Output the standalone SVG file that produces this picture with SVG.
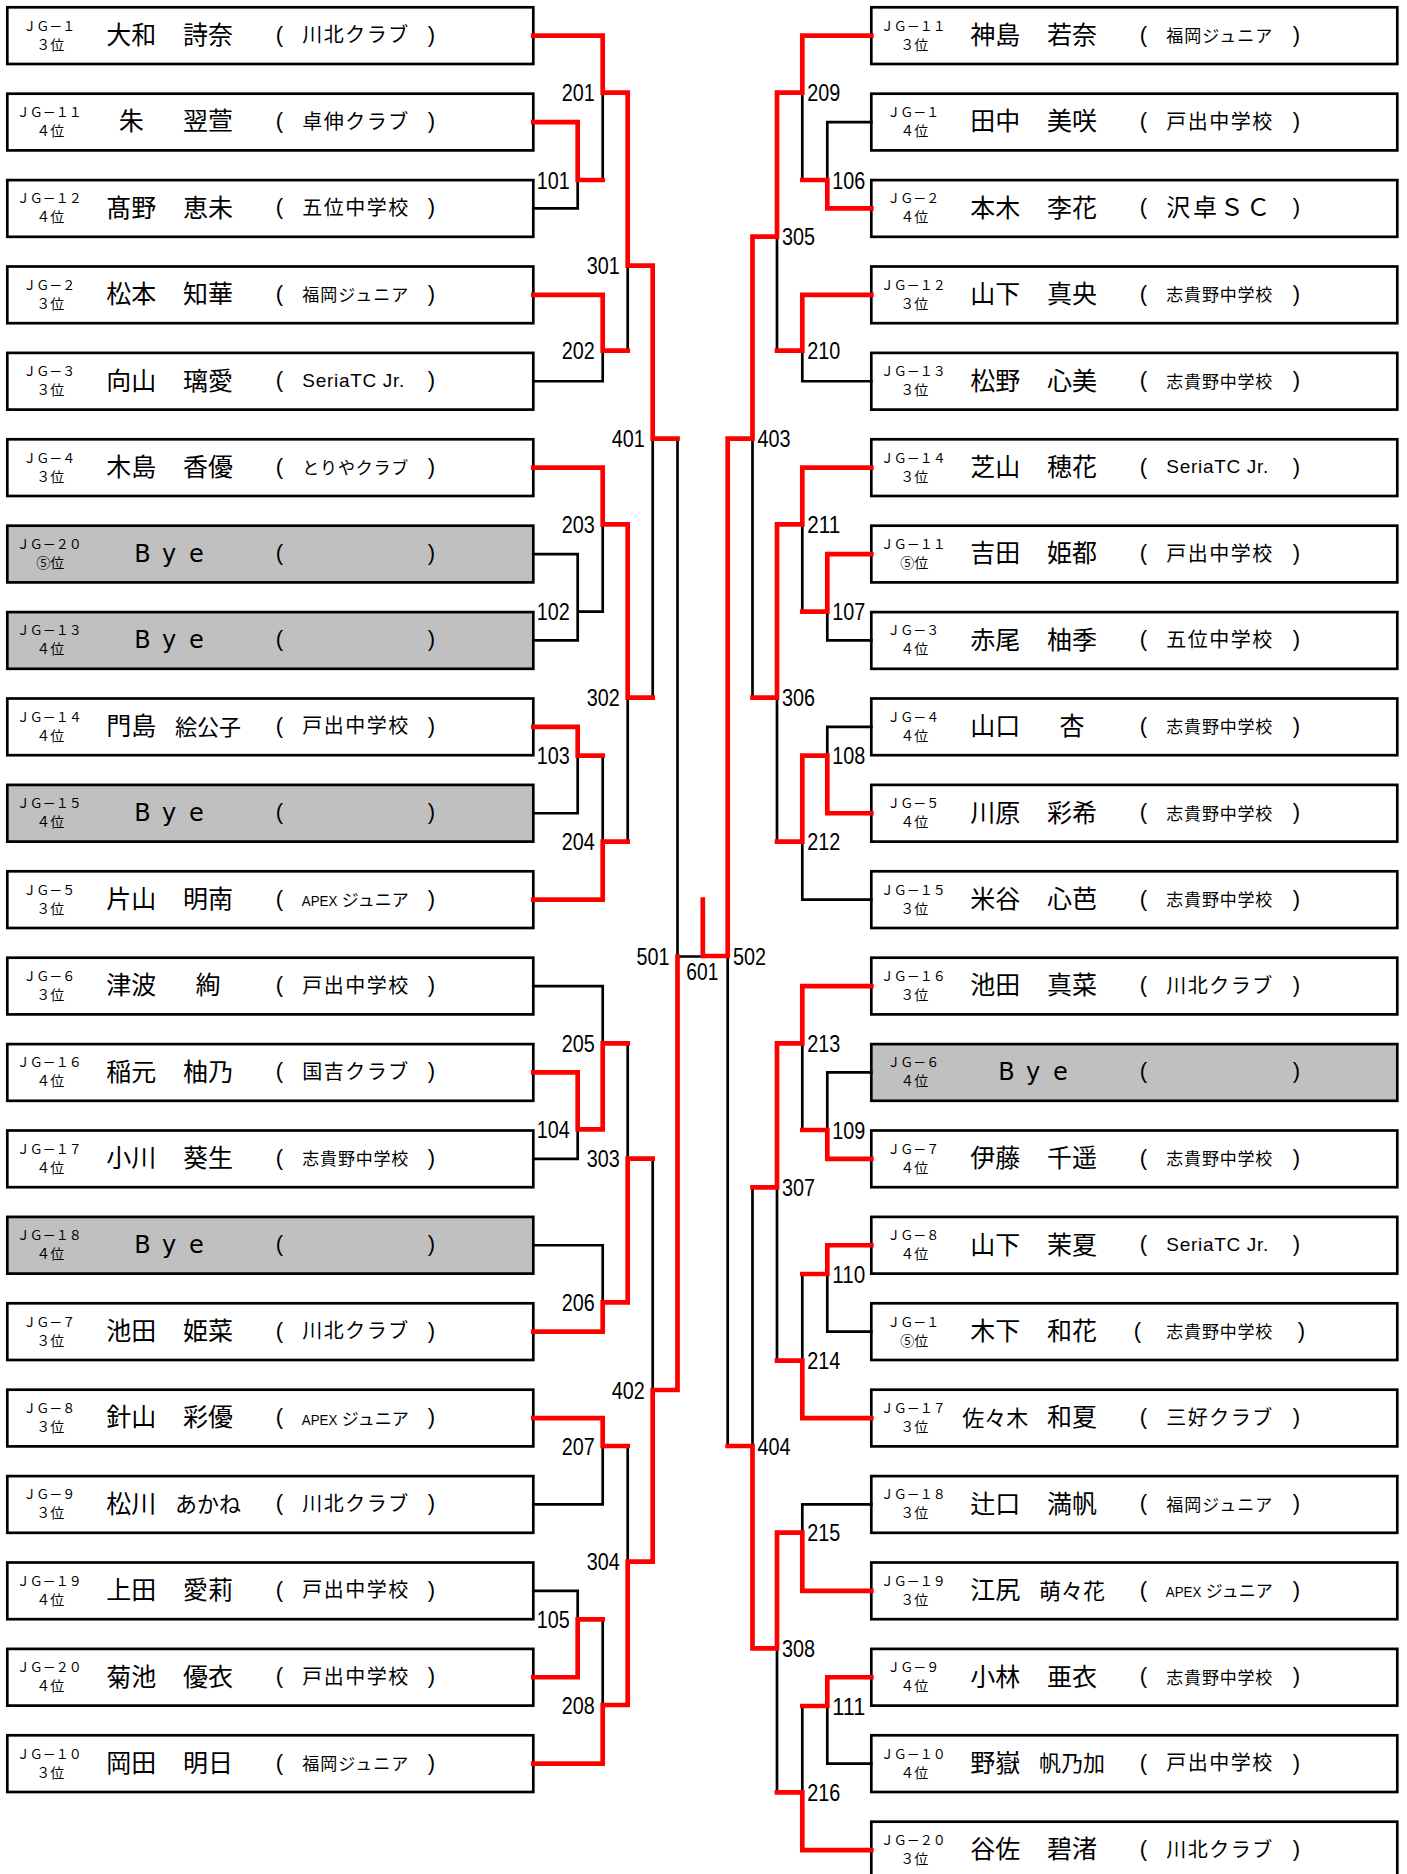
<svg xmlns="http://www.w3.org/2000/svg" width="1407" height="1874" viewBox="0 0 1407 1874">
<style>
.box{fill:#fff;stroke:#000;stroke-width:2.7}
.bye{fill:#c0c0c0}
.t{font-family:"Noto Sans CJK JP","Noto Sans CJK SC",sans-serif;fill:#000}
.jg{font-size:13px;text-anchor:middle}
.rk{font-size:14px;text-anchor:middle}
.nm{font-size:25px;text-anchor:middle}
.n3{font-size:22px}
.c5{font-size:20px}
.c6{font-size:17px}
.c4{font-size:24px}
.pr{font-family:"Liberation Sans",sans-serif;font-size:22px;text-anchor:middle}
.sr{font-family:"Liberation Sans",sans-serif;font-size:19px}
.ap{font-family:"Liberation Sans",sans-serif;font-size:15px}
.by{font-family:"DejaVu Sans",sans-serif;font-size:24px;text-anchor:middle}
.lb{font-family:"Liberation Sans",sans-serif;font-size:24px}
.le{text-anchor:end}
.lm{text-anchor:middle}
.bk{fill:none;stroke:#000;stroke-width:2.7;stroke-linecap:square}
.rd{fill:none;stroke:#f00;stroke-width:4.7;stroke-linecap:square}
</style>

<g id="left-nodes">
<g id="L00" transform="translate(7.3,7.3)"><rect class="box" width="526" height="56.7"/><text class="t jg" x="42" y="23.4">ＪＧ－１</text><text class="t rk" x="43" y="42.4">３位</text><text class="t nm" x="124" y="36.7">大和</text><text class="t nm" x="200.7" y="36.7">詩奈</text><text class="pr" x="272" y="34.4">(</text><text class="t c5" x="295" y="34.9" textLength="106" lengthAdjust="spacing">川北クラブ</text><text class="pr" x="424" y="34.4">)</text></g>
<g id="L01" transform="translate(7.3,93.7)"><rect class="box" width="526" height="56.7"/><text class="t jg" x="42" y="23.4">ＪＧ－１１</text><text class="t rk" x="43" y="42.4">４位</text><text class="t nm" x="124" y="36.7">朱</text><text class="t nm" x="200.7" y="36.7">翌萱</text><text class="pr" x="272" y="34.4">(</text><text class="t c5" x="295" y="34.9" textLength="106" lengthAdjust="spacing">卓伸クラブ</text><text class="pr" x="424" y="34.4">)</text></g>
<g id="L02" transform="translate(7.3,180.1)"><rect class="box" width="526" height="56.7"/><text class="t jg" x="42" y="23.4">ＪＧ－１２</text><text class="t rk" x="43" y="42.4">４位</text><text class="t nm" x="124" y="36.7">髙野</text><text class="t nm" x="200.7" y="36.7">恵未</text><text class="pr" x="272" y="34.4">(</text><text class="t c5" x="295" y="34.9" textLength="106" lengthAdjust="spacing">五位中学校</text><text class="pr" x="424" y="34.4">)</text></g>
<g id="L03" transform="translate(7.3,266.5)"><rect class="box" width="526" height="56.7"/><text class="t jg" x="42" y="23.4">ＪＧ－２</text><text class="t rk" x="43" y="42.4">３位</text><text class="t nm" x="124" y="36.7">松本</text><text class="t nm" x="200.7" y="36.7">知華</text><text class="pr" x="272" y="34.4">(</text><text class="t c6" x="295" y="34.9" textLength="106" lengthAdjust="spacing">福岡ジュニア</text><text class="pr" x="424" y="34.4">)</text></g>
<g id="L04" transform="translate(7.3,352.9)"><rect class="box" width="526" height="56.7"/><text class="t jg" x="42" y="23.4">ＪＧ－３</text><text class="t rk" x="43" y="42.4">３位</text><text class="t nm" x="124" y="36.7">向山</text><text class="t nm" x="200.7" y="36.7">璃愛</text><text class="pr" x="272" y="34.4">(</text><text class="sr" x="295" y="34.2" textLength="102" lengthAdjust="spacing">SeriaTC Jr.</text><text class="pr" x="424" y="34.4">)</text></g>
<g id="L05" transform="translate(7.3,439.3)"><rect class="box" width="526" height="56.7"/><text class="t jg" x="42" y="23.4">ＪＧ－４</text><text class="t rk" x="43" y="42.4">３位</text><text class="t nm" x="124" y="36.7">木島</text><text class="t nm" x="200.7" y="36.7">香優</text><text class="pr" x="272" y="34.4">(</text><text class="t c6" x="295" y="34.9" textLength="106" lengthAdjust="spacing">とりやクラブ</text><text class="pr" x="424" y="34.4">)</text></g>
<g id="L06" transform="translate(7.3,525.7)"><rect class="box bye" width="526" height="56.7"/><text class="t jg" x="42" y="23.4">ＪＧ－２０</text><text class="t rk" x="43" y="42.4">⑤位</text><text class="by" x="135.2 161.9 189" y="36.4">Bye</text><text class="pr" x="272" y="34.4">(</text><text class="pr" x="424" y="34.4">)</text></g>
<g id="L07" transform="translate(7.3,612.1)"><rect class="box bye" width="526" height="56.7"/><text class="t jg" x="42" y="23.4">ＪＧ－１３</text><text class="t rk" x="43" y="42.4">４位</text><text class="by" x="135.2 161.9 189" y="36.4">Bye</text><text class="pr" x="272" y="34.4">(</text><text class="pr" x="424" y="34.4">)</text></g>
<g id="L08" transform="translate(7.3,698.5)"><rect class="box" width="526" height="56.7"/><text class="t jg" x="42" y="23.4">ＪＧ－１４</text><text class="t rk" x="43" y="42.4">４位</text><text class="t nm" x="124" y="36.7">門島</text><text class="t nm n3" x="200.7" y="36.2">絵公子</text><text class="pr" x="272" y="34.4">(</text><text class="t c5" x="295" y="34.9" textLength="106" lengthAdjust="spacing">戸出中学校</text><text class="pr" x="424" y="34.4">)</text></g>
<g id="L09" transform="translate(7.3,784.9)"><rect class="box bye" width="526" height="56.7"/><text class="t jg" x="42" y="23.4">ＪＧ－１５</text><text class="t rk" x="43" y="42.4">４位</text><text class="by" x="135.2 161.9 189" y="36.4">Bye</text><text class="pr" x="272" y="34.4">(</text><text class="pr" x="424" y="34.4">)</text></g>
<g id="L10" transform="translate(7.3,871.3)"><rect class="box" width="526" height="56.7"/><text class="t jg" x="42" y="23.4">ＪＧ－５</text><text class="t rk" x="43" y="42.4">３位</text><text class="t nm" x="124" y="36.7">片山</text><text class="t nm" x="200.7" y="36.7">明南</text><text class="pr" x="272" y="34.4">(</text><text class="ap" x="294.5" y="34.9" textLength="35.5" lengthAdjust="spacingAndGlyphs">APEX</text><text class="t c6" x="334.5" y="34.9" textLength="67" lengthAdjust="spacing">ジュニア</text><text class="pr" x="424" y="34.4">)</text></g>
<g id="L11" transform="translate(7.3,957.7)"><rect class="box" width="526" height="56.7"/><text class="t jg" x="42" y="23.4">ＪＧ－６</text><text class="t rk" x="43" y="42.4">３位</text><text class="t nm" x="124" y="36.7">津波</text><text class="t nm" x="200.7" y="36.7">絢</text><text class="pr" x="272" y="34.4">(</text><text class="t c5" x="295" y="34.9" textLength="106" lengthAdjust="spacing">戸出中学校</text><text class="pr" x="424" y="34.4">)</text></g>
<g id="L12" transform="translate(7.3,1044.1)"><rect class="box" width="526" height="56.7"/><text class="t jg" x="42" y="23.4">ＪＧ－１６</text><text class="t rk" x="43" y="42.4">４位</text><text class="t nm" x="124" y="36.7">稲元</text><text class="t nm" x="200.7" y="36.7">柚乃</text><text class="pr" x="272" y="34.4">(</text><text class="t c5" x="295" y="34.9" textLength="106" lengthAdjust="spacing">国吉クラブ</text><text class="pr" x="424" y="34.4">)</text></g>
<g id="L13" transform="translate(7.3,1130.5)"><rect class="box" width="526" height="56.7"/><text class="t jg" x="42" y="23.4">ＪＧ－１７</text><text class="t rk" x="43" y="42.4">４位</text><text class="t nm" x="124" y="36.7">小川</text><text class="t nm" x="200.7" y="36.7">葵生</text><text class="pr" x="272" y="34.4">(</text><text class="t c6" x="295" y="34.9" textLength="106" lengthAdjust="spacing">志貴野中学校</text><text class="pr" x="424" y="34.4">)</text></g>
<g id="L14" transform="translate(7.3,1216.9)"><rect class="box bye" width="526" height="56.7"/><text class="t jg" x="42" y="23.4">ＪＧ－１８</text><text class="t rk" x="43" y="42.4">４位</text><text class="by" x="135.2 161.9 189" y="36.4">Bye</text><text class="pr" x="272" y="34.4">(</text><text class="pr" x="424" y="34.4">)</text></g>
<g id="L15" transform="translate(7.3,1303.3)"><rect class="box" width="526" height="56.7"/><text class="t jg" x="42" y="23.4">ＪＧ－７</text><text class="t rk" x="43" y="42.4">３位</text><text class="t nm" x="124" y="36.7">池田</text><text class="t nm" x="200.7" y="36.7">姫菜</text><text class="pr" x="272" y="34.4">(</text><text class="t c5" x="295" y="34.9" textLength="106" lengthAdjust="spacing">川北クラブ</text><text class="pr" x="424" y="34.4">)</text></g>
<g id="L16" transform="translate(7.3,1389.7)"><rect class="box" width="526" height="56.7"/><text class="t jg" x="42" y="23.4">ＪＧ－８</text><text class="t rk" x="43" y="42.4">３位</text><text class="t nm" x="124" y="36.7">針山</text><text class="t nm" x="200.7" y="36.7">彩優</text><text class="pr" x="272" y="34.4">(</text><text class="ap" x="294.5" y="34.9" textLength="35.5" lengthAdjust="spacingAndGlyphs">APEX</text><text class="t c6" x="334.5" y="34.9" textLength="67" lengthAdjust="spacing">ジュニア</text><text class="pr" x="424" y="34.4">)</text></g>
<g id="L17" transform="translate(7.3,1476.1)"><rect class="box" width="526" height="56.7"/><text class="t jg" x="42" y="23.4">ＪＧ－９</text><text class="t rk" x="43" y="42.4">３位</text><text class="t nm" x="124" y="36.7">松川</text><text class="t nm n3" x="200.7" y="36.2">あかね</text><text class="pr" x="272" y="34.4">(</text><text class="t c5" x="295" y="34.9" textLength="106" lengthAdjust="spacing">川北クラブ</text><text class="pr" x="424" y="34.4">)</text></g>
<g id="L18" transform="translate(7.3,1562.5)"><rect class="box" width="526" height="56.7"/><text class="t jg" x="42" y="23.4">ＪＧ－１９</text><text class="t rk" x="43" y="42.4">４位</text><text class="t nm" x="124" y="36.7">上田</text><text class="t nm" x="200.7" y="36.7">愛莉</text><text class="pr" x="272" y="34.4">(</text><text class="t c5" x="295" y="34.9" textLength="106" lengthAdjust="spacing">戸出中学校</text><text class="pr" x="424" y="34.4">)</text></g>
<g id="L19" transform="translate(7.3,1648.9)"><rect class="box" width="526" height="56.7"/><text class="t jg" x="42" y="23.4">ＪＧ－２０</text><text class="t rk" x="43" y="42.4">４位</text><text class="t nm" x="124" y="36.7">菊池</text><text class="t nm" x="200.7" y="36.7">優衣</text><text class="pr" x="272" y="34.4">(</text><text class="t c5" x="295" y="34.9" textLength="106" lengthAdjust="spacing">戸出中学校</text><text class="pr" x="424" y="34.4">)</text></g>
<g id="L20" transform="translate(7.3,1735.3)"><rect class="box" width="526" height="56.7"/><text class="t jg" x="42" y="23.4">ＪＧ－１０</text><text class="t rk" x="43" y="42.4">３位</text><text class="t nm" x="124" y="36.7">岡田</text><text class="t nm" x="200.7" y="36.7">明日</text><text class="pr" x="272" y="34.4">(</text><text class="t c6" x="295" y="34.9" textLength="106" lengthAdjust="spacing">福岡ジュニア</text><text class="pr" x="424" y="34.4">)</text></g>
</g>

<g id="right-nodes">
<g id="R00" transform="translate(871.3,7.3)"><rect class="box" width="526" height="56.7"/><text class="t jg" x="42" y="23.4">ＪＧ－１１</text><text class="t rk" x="43" y="42.4">３位</text><text class="t nm" x="124" y="36.7">神島</text><text class="t nm" x="200.7" y="36.7">若奈</text><text class="pr" x="272" y="34.4">(</text><text class="t c6" x="295" y="34.9" textLength="106" lengthAdjust="spacing">福岡ジュニア</text><text class="pr" x="425" y="34.4">)</text></g>
<g id="R01" transform="translate(871.3,93.7)"><rect class="box" width="526" height="56.7"/><text class="t jg" x="42" y="23.4">ＪＧ－１</text><text class="t rk" x="43" y="42.4">４位</text><text class="t nm" x="124" y="36.7">田中</text><text class="t nm" x="200.7" y="36.7">美咲</text><text class="pr" x="272" y="34.4">(</text><text class="t c5" x="295" y="34.9" textLength="106" lengthAdjust="spacing">戸出中学校</text><text class="pr" x="425" y="34.4">)</text></g>
<g id="R02" transform="translate(871.3,180.1)"><rect class="box" width="526" height="56.7"/><text class="t jg" x="42" y="23.4">ＪＧ－２</text><text class="t rk" x="43" y="42.4">４位</text><text class="t nm" x="124" y="36.7">本木</text><text class="t nm" x="200.7" y="36.7">李花</text><text class="pr" x="272" y="34.4">(</text><text class="t c4" x="295" y="36.4" textLength="104" lengthAdjust="spacing">沢卓ＳＣ</text><text class="pr" x="425" y="34.4">)</text></g>
<g id="R03" transform="translate(871.3,266.5)"><rect class="box" width="526" height="56.7"/><text class="t jg" x="42" y="23.4">ＪＧ－１２</text><text class="t rk" x="43" y="42.4">３位</text><text class="t nm" x="124" y="36.7">山下</text><text class="t nm" x="200.7" y="36.7">真央</text><text class="pr" x="272" y="34.4">(</text><text class="t c6" x="295" y="34.9" textLength="106" lengthAdjust="spacing">志貴野中学校</text><text class="pr" x="425" y="34.4">)</text></g>
<g id="R04" transform="translate(871.3,352.9)"><rect class="box" width="526" height="56.7"/><text class="t jg" x="42" y="23.4">ＪＧ－１３</text><text class="t rk" x="43" y="42.4">３位</text><text class="t nm" x="124" y="36.7">松野</text><text class="t nm" x="200.7" y="36.7">心美</text><text class="pr" x="272" y="34.4">(</text><text class="t c6" x="295" y="34.9" textLength="106" lengthAdjust="spacing">志貴野中学校</text><text class="pr" x="425" y="34.4">)</text></g>
<g id="R05" transform="translate(871.3,439.3)"><rect class="box" width="526" height="56.7"/><text class="t jg" x="42" y="23.4">ＪＧ－１４</text><text class="t rk" x="43" y="42.4">３位</text><text class="t nm" x="124" y="36.7">芝山</text><text class="t nm" x="200.7" y="36.7">穂花</text><text class="pr" x="272" y="34.4">(</text><text class="sr" x="295" y="34.2" textLength="102" lengthAdjust="spacing">SeriaTC Jr.</text><text class="pr" x="425" y="34.4">)</text></g>
<g id="R06" transform="translate(871.3,525.7)"><rect class="box" width="526" height="56.7"/><text class="t jg" x="42" y="23.4">ＪＧ－１１</text><text class="t rk" x="43" y="42.4">⑤位</text><text class="t nm" x="124" y="36.7">吉田</text><text class="t nm" x="200.7" y="36.7">姫都</text><text class="pr" x="272" y="34.4">(</text><text class="t c5" x="295" y="34.9" textLength="106" lengthAdjust="spacing">戸出中学校</text><text class="pr" x="425" y="34.4">)</text></g>
<g id="R07" transform="translate(871.3,612.1)"><rect class="box" width="526" height="56.7"/><text class="t jg" x="42" y="23.4">ＪＧ－３</text><text class="t rk" x="43" y="42.4">４位</text><text class="t nm" x="124" y="36.7">赤尾</text><text class="t nm" x="200.7" y="36.7">柚季</text><text class="pr" x="272" y="34.4">(</text><text class="t c5" x="295" y="34.9" textLength="106" lengthAdjust="spacing">五位中学校</text><text class="pr" x="425" y="34.4">)</text></g>
<g id="R08" transform="translate(871.3,698.5)"><rect class="box" width="526" height="56.7"/><text class="t jg" x="42" y="23.4">ＪＧ－４</text><text class="t rk" x="43" y="42.4">４位</text><text class="t nm" x="124" y="36.7">山口</text><text class="t nm" x="200.7" y="36.7">杏</text><text class="pr" x="272" y="34.4">(</text><text class="t c6" x="295" y="34.9" textLength="106" lengthAdjust="spacing">志貴野中学校</text><text class="pr" x="425" y="34.4">)</text></g>
<g id="R09" transform="translate(871.3,784.9)"><rect class="box" width="526" height="56.7"/><text class="t jg" x="42" y="23.4">ＪＧ－５</text><text class="t rk" x="43" y="42.4">４位</text><text class="t nm" x="124" y="36.7">川原</text><text class="t nm" x="200.7" y="36.7">彩希</text><text class="pr" x="272" y="34.4">(</text><text class="t c6" x="295" y="34.9" textLength="106" lengthAdjust="spacing">志貴野中学校</text><text class="pr" x="425" y="34.4">)</text></g>
<g id="R10" transform="translate(871.3,871.3)"><rect class="box" width="526" height="56.7"/><text class="t jg" x="42" y="23.4">ＪＧ－１５</text><text class="t rk" x="43" y="42.4">３位</text><text class="t nm" x="124" y="36.7">米谷</text><text class="t nm" x="200.7" y="36.7">心芭</text><text class="pr" x="272" y="34.4">(</text><text class="t c6" x="295" y="34.9" textLength="106" lengthAdjust="spacing">志貴野中学校</text><text class="pr" x="425" y="34.4">)</text></g>
<g id="R11" transform="translate(871.3,957.7)"><rect class="box" width="526" height="56.7"/><text class="t jg" x="42" y="23.4">ＪＧ－１６</text><text class="t rk" x="43" y="42.4">３位</text><text class="t nm" x="124" y="36.7">池田</text><text class="t nm" x="200.7" y="36.7">真菜</text><text class="pr" x="272" y="34.4">(</text><text class="t c5" x="295" y="34.9" textLength="106" lengthAdjust="spacing">川北クラブ</text><text class="pr" x="425" y="34.4">)</text></g>
<g id="R12" transform="translate(871.3,1044.1)"><rect class="box bye" width="526" height="56.7"/><text class="t jg" x="42" y="23.4">ＪＧ－６</text><text class="t rk" x="43" y="42.4">４位</text><text class="by" x="135.2 161.9 189" y="36.4">Bye</text><text class="pr" x="272" y="34.4">(</text><text class="pr" x="425" y="34.4">)</text></g>
<g id="R13" transform="translate(871.3,1130.5)"><rect class="box" width="526" height="56.7"/><text class="t jg" x="42" y="23.4">ＪＧ－７</text><text class="t rk" x="43" y="42.4">４位</text><text class="t nm" x="124" y="36.7">伊藤</text><text class="t nm" x="200.7" y="36.7">千遥</text><text class="pr" x="272" y="34.4">(</text><text class="t c6" x="295" y="34.9" textLength="106" lengthAdjust="spacing">志貴野中学校</text><text class="pr" x="425" y="34.4">)</text></g>
<g id="R14" transform="translate(871.3,1216.9)"><rect class="box" width="526" height="56.7"/><text class="t jg" x="42" y="23.4">ＪＧ－８</text><text class="t rk" x="43" y="42.4">４位</text><text class="t nm" x="124" y="36.7">山下</text><text class="t nm" x="200.7" y="36.7">茉夏</text><text class="pr" x="272" y="34.4">(</text><text class="sr" x="295" y="34.2" textLength="102" lengthAdjust="spacing">SeriaTC Jr.</text><text class="pr" x="425" y="34.4">)</text></g>
<g id="R15" transform="translate(871.3,1303.3)"><rect class="box" width="526" height="56.7"/><text class="t jg" x="42" y="23.4">ＪＧ－１</text><text class="t rk" x="43" y="42.4">⑤位</text><text class="t nm" x="124" y="36.7">木下</text><text class="t nm" x="200.7" y="36.7">和花</text><text class="pr" x="266" y="34.4">(</text><text class="t c6" x="295" y="34.9" textLength="106" lengthAdjust="spacing">志貴野中学校</text><text class="pr" x="430" y="34.4">)</text></g>
<g id="R16" transform="translate(871.3,1389.7)"><rect class="box" width="526" height="56.7"/><text class="t jg" x="42" y="23.4">ＪＧ－１７</text><text class="t rk" x="43" y="42.4">３位</text><text class="t nm n3" x="124" y="36.2">佐々木</text><text class="t nm" x="200.7" y="36.7">和夏</text><text class="pr" x="272" y="34.4">(</text><text class="t c5" x="295" y="34.9" textLength="106" lengthAdjust="spacing">三好クラブ</text><text class="pr" x="425" y="34.4">)</text></g>
<g id="R17" transform="translate(871.3,1476.1)"><rect class="box" width="526" height="56.7"/><text class="t jg" x="42" y="23.4">ＪＧ－１８</text><text class="t rk" x="43" y="42.4">３位</text><text class="t nm" x="124" y="36.7">辻口</text><text class="t nm" x="200.7" y="36.7">満帆</text><text class="pr" x="272" y="34.4">(</text><text class="t c6" x="295" y="34.9" textLength="106" lengthAdjust="spacing">福岡ジュニア</text><text class="pr" x="425" y="34.4">)</text></g>
<g id="R18" transform="translate(871.3,1562.5)"><rect class="box" width="526" height="56.7"/><text class="t jg" x="42" y="23.4">ＪＧ－１９</text><text class="t rk" x="43" y="42.4">３位</text><text class="t nm" x="124" y="36.7">江尻</text><text class="t nm n3" x="200.7" y="36.2">萌々花</text><text class="pr" x="272" y="34.4">(</text><text class="ap" x="294.5" y="34.9" textLength="35.5" lengthAdjust="spacingAndGlyphs">APEX</text><text class="t c6" x="334.5" y="34.9" textLength="67" lengthAdjust="spacing">ジュニア</text><text class="pr" x="425" y="34.4">)</text></g>
<g id="R19" transform="translate(871.3,1648.9)"><rect class="box" width="526" height="56.7"/><text class="t jg" x="42" y="23.4">ＪＧ－９</text><text class="t rk" x="43" y="42.4">４位</text><text class="t nm" x="124" y="36.7">小林</text><text class="t nm" x="200.7" y="36.7">亜衣</text><text class="pr" x="272" y="34.4">(</text><text class="t c6" x="295" y="34.9" textLength="106" lengthAdjust="spacing">志貴野中学校</text><text class="pr" x="425" y="34.4">)</text></g>
<g id="R20" transform="translate(871.3,1735.3)"><rect class="box" width="526" height="56.7"/><text class="t jg" x="42" y="23.4">ＪＧ－１０</text><text class="t rk" x="43" y="42.4">４位</text><text class="t nm" x="124" y="36.7">野嶽</text><text class="t nm n3" x="200.7" y="36.2">帆乃加</text><text class="pr" x="272" y="34.4">(</text><text class="t c5" x="295" y="34.9" textLength="106" lengthAdjust="spacing">戸出中学校</text><text class="pr" x="425" y="34.4">)</text></g>
<g id="R21" transform="translate(871.3,1821.7)"><rect class="box" width="526" height="56.7"/><text class="t jg" x="42" y="23.4">ＪＧ－２０</text><text class="t rk" x="43" y="42.4">３位</text><text class="t nm" x="124" y="36.7">谷佐</text><text class="t nm" x="200.7" y="36.7">碧渚</text><text class="pr" x="272" y="34.4">(</text><text class="t c5" x="295" y="34.9" textLength="106" lengthAdjust="spacing">川北クラブ</text><text class="pr" x="425" y="34.4">)</text></g>
</g>

<g id="connectors">
<path class="bk" d="M533.3 208.45H577.7V180M602.7 92.7V180M533.3 381.25H602.7V350.7M627.7 265.7V350.7M533.3 554.05H577.7V640.45H533.3M577.7 611.7H602.7M602.7 524.3V611.7M533.3 813.25H577.7V755.7M602.7 755.7V841.7M627.7 697.7V841.7M652.7 438.7V697.7M677.5 438.7V956.5M533.3 986.05H602.7V1043.3M533.3 1158.85H577.7V1129.3M627.7 1043.3V1158.7M533.3 1245.25H602.7V1302.3M652.7 1158.7V1390M533.3 1504.45H602.7V1446M627.7 1446V1561.7M533.3 1590.85H577.7V1619.3M602.7 1619.3V1705M677.5 956.5H702.5"/>
<path class="bk" d="M871.3 122.05H827.3V180M802.3 92.7V180M777 236.7V350.7M871.3 381.25H802.3V350.7M752.5 438.7V697.7M802.3 524.3V611.7M871.3 640.45H827.3V611.7M777 697.7V841.7M871.3 726.85H827.3V755.7M871.3 899.65H802.3V841.7M727.7 956.5V1446M802.3 1043.3V1130M871.3 1072.45H827.3V1130M777 1187.3V1360.7M752.5 1187.3V1446M802.3 1274V1360.7M871.3 1331.65H827.3V1274M871.3 1504.45H802.3V1532.7M777 1648.3V1792.3M802.3 1706V1792.3M871.3 1763.65H827.3V1706"/>
<path class="rd" d="M533.3 35.65H602.7V92.7H627.7V265.7H652.7V438.7H677.5M533.3 122.05H577.7V180H602.7M533.3 294.85H602.7V350.7H627.7M533.3 467.65H602.7V524.3H627.7V697.7H652.7M533.3 726.85H577.7V755.7H602.7M533.3 899.65H602.7V841.7H627.7M533.3 1072.45H577.7V1129.3H602.7V1043.3H627.7M533.3 1331.65H602.7V1302.3H627.7V1158.7H652.7M533.3 1418.05H602.7V1446H627.7M533.3 1677.25H577.7V1619.3H602.7M533.3 1763.65H602.7V1705H627.7V1561.7H652.7V1390H677.5V956.5"/>
<path class="rd" d="M871.3 35.65H802.3V92.7H777V236.7H752.5V438.7H727.7V956H702.8V899.5M871.3 208.45H827.3V180H802.3M871.3 294.85H802.3V350.7H777M871.3 467.65H802.3V524.3H777V697.7H752.5M871.3 554.05H827.3V611.7H802.3M871.3 813.25H827.3V755.7H802.3V841.7H777M871.3 986.05H802.3V1043.3H777V1187.3H752.5M871.3 1158.85H827.3V1130H802.3M871.3 1245.25H827.3V1274H802.3M871.3 1418.05H802.3V1360.7H777M871.3 1590.85H802.3V1532.7H777V1648.3H752.5V1446H727.7M871.3 1677.25H827.3V1706H802.3M871.3 1850.05H802.3V1792.3H777"/>
</g>

<g id="match-labels">
<g class="lb le">
<text x="569.7" y="188.5" textLength="33" lengthAdjust="spacingAndGlyphs">101</text>
<text x="569.7" y="620.2" textLength="33" lengthAdjust="spacingAndGlyphs">102</text>
<text x="569.7" y="764.2" textLength="33" lengthAdjust="spacingAndGlyphs">103</text>
<text x="569.7" y="1137.8" textLength="33" lengthAdjust="spacingAndGlyphs">104</text>
<text x="569.7" y="1627.8" textLength="33" lengthAdjust="spacingAndGlyphs">105</text>
<text x="594.7" y="101.2" textLength="33" lengthAdjust="spacingAndGlyphs">201</text>
<text x="594.7" y="359.2" textLength="33" lengthAdjust="spacingAndGlyphs">202</text>
<text x="594.7" y="532.8" textLength="33" lengthAdjust="spacingAndGlyphs">203</text>
<text x="594.7" y="850.2" textLength="33" lengthAdjust="spacingAndGlyphs">204</text>
<text x="594.7" y="1051.8" textLength="33" lengthAdjust="spacingAndGlyphs">205</text>
<text x="594.7" y="1310.8" textLength="33" lengthAdjust="spacingAndGlyphs">206</text>
<text x="594.7" y="1454.5" textLength="33" lengthAdjust="spacingAndGlyphs">207</text>
<text x="594.7" y="1713.5" textLength="33" lengthAdjust="spacingAndGlyphs">208</text>
<text x="619.7" y="274.2" textLength="33" lengthAdjust="spacingAndGlyphs">301</text>
<text x="619.7" y="706.2" textLength="33" lengthAdjust="spacingAndGlyphs">302</text>
<text x="619.7" y="1167.2" textLength="33" lengthAdjust="spacingAndGlyphs">303</text>
<text x="619.7" y="1570.2" textLength="33" lengthAdjust="spacingAndGlyphs">304</text>
<text x="644.7" y="447.2" textLength="33" lengthAdjust="spacingAndGlyphs">401</text>
<text x="644.7" y="1398.5" textLength="33" lengthAdjust="spacingAndGlyphs">402</text>
<text x="669.5" y="965" textLength="33" lengthAdjust="spacingAndGlyphs">501</text>
</g>
<g class="lb">
<text x="832.3" y="188.5" textLength="33" lengthAdjust="spacingAndGlyphs">106</text>
<text x="832.3" y="620.2" textLength="33" lengthAdjust="spacingAndGlyphs">107</text>
<text x="832.3" y="764.2" textLength="33" lengthAdjust="spacingAndGlyphs">108</text>
<text x="832.3" y="1138.5" textLength="33" lengthAdjust="spacingAndGlyphs">109</text>
<text x="832.3" y="1282.5" textLength="33" lengthAdjust="spacingAndGlyphs">110</text>
<text x="832.3" y="1714.5" textLength="33" lengthAdjust="spacingAndGlyphs">111</text>
<text x="807.3" y="101.2" textLength="33" lengthAdjust="spacingAndGlyphs">209</text>
<text x="807.3" y="359.2" textLength="33" lengthAdjust="spacingAndGlyphs">210</text>
<text x="807.3" y="532.8" textLength="33" lengthAdjust="spacingAndGlyphs">211</text>
<text x="807.3" y="850.2" textLength="33" lengthAdjust="spacingAndGlyphs">212</text>
<text x="807.3" y="1051.8" textLength="33" lengthAdjust="spacingAndGlyphs">213</text>
<text x="807.3" y="1369.2" textLength="33" lengthAdjust="spacingAndGlyphs">214</text>
<text x="807.3" y="1541.2" textLength="33" lengthAdjust="spacingAndGlyphs">215</text>
<text x="807.3" y="1800.8" textLength="33" lengthAdjust="spacingAndGlyphs">216</text>
<text x="782" y="245.2" textLength="33" lengthAdjust="spacingAndGlyphs">305</text>
<text x="782" y="706.2" textLength="33" lengthAdjust="spacingAndGlyphs">306</text>
<text x="782" y="1195.8" textLength="33" lengthAdjust="spacingAndGlyphs">307</text>
<text x="782" y="1656.8" textLength="33" lengthAdjust="spacingAndGlyphs">308</text>
<text x="757.5" y="447.2" textLength="33" lengthAdjust="spacingAndGlyphs">403</text>
<text x="757.5" y="1454.5" textLength="33" lengthAdjust="spacingAndGlyphs">404</text>
<text x="733" y="965" textLength="33" lengthAdjust="spacingAndGlyphs">502</text>
</g>
<text class="lb lm" x="702.3" y="980" textLength="32" lengthAdjust="spacingAndGlyphs">601</text>
</g>
</svg>
